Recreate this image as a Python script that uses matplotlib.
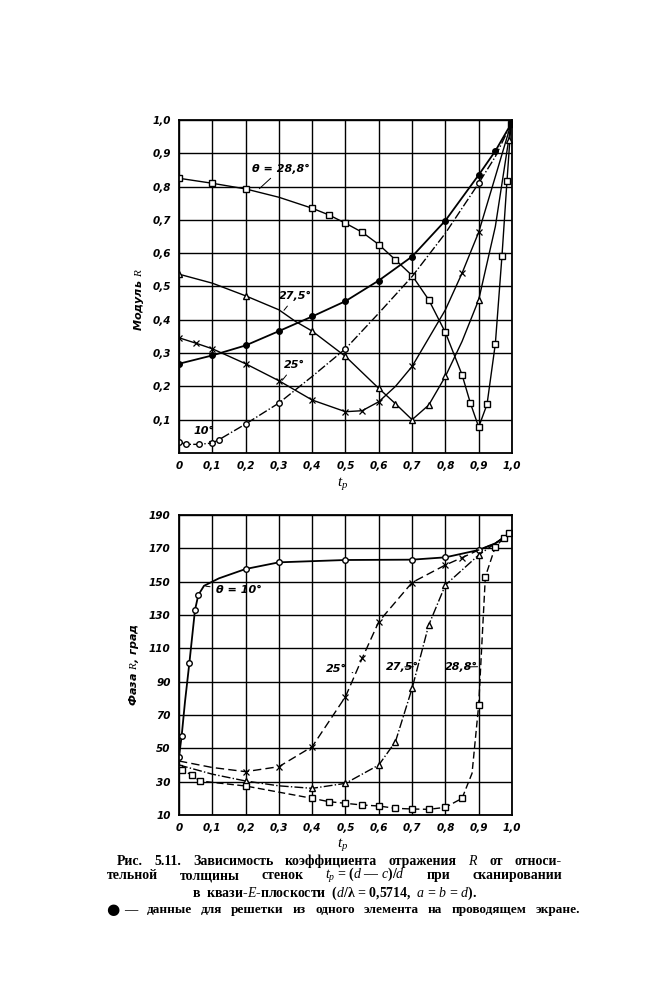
import matplotlib
matplotlib.use('Agg')
import matplotlib.pyplot as plt

plt.rcParams['font.family'] = ['DejaVu Sans']
plt.rcParams['mathtext.fontset'] = 'custom'
plt.rcParams['mathtext.rm'] = 'Liberation Serif'
plt.rcParams['mathtext.it'] = 'Liberation Serif:italic'

# --- верхний график: модуль R ---
x_288 = [0, 0.1, 0.2, 0.3, 0.4, 0.45, 0.5, 0.55, 0.6, 0.65, 0.7, 0.75, 0.8, 0.85, 0.875, 0.9, 0.925, 0.95, 0.97, 0.985, 0.997]
r_288 = [0.825, 0.81, 0.793, 0.768, 0.735, 0.715, 0.69, 0.663, 0.626, 0.58, 0.533, 0.46, 0.362, 0.235, 0.15, 0.078, 0.146, 0.328, 0.593, 0.817, 0.988]
m_288 = [0, 1, 2, 4, 5, 6, 7, 8, 9, 10, 11, 12, 13, 14, 15, 16, 17, 18, 19, 20]

x_275 = [0, 0.1, 0.2, 0.3, 0.35, 0.4, 0.5, 0.6, 0.65, 0.7, 0.75, 0.8, 0.85, 0.9, 0.95, 0.99, 0.997]
r_275 = [0.537, 0.51, 0.472, 0.43, 0.395, 0.366, 0.29, 0.194, 0.148, 0.10, 0.144, 0.23, 0.335, 0.46, 0.68, 0.94, 0.988]
m_275 = [0, 2, 5, 6, 7, 8, 9, 10, 11, 13, 15]

x_25 = [0, 0.05, 0.1, 0.2, 0.3, 0.4, 0.5, 0.55, 0.6, 0.65, 0.7, 0.75, 0.8, 0.85, 0.9, 0.95, 0.997]
r_25 = [0.346, 0.33, 0.313, 0.268, 0.217, 0.159, 0.124, 0.127, 0.154, 0.2, 0.26, 0.345, 0.43, 0.54, 0.663, 0.83, 0.988]
m_25 = [0, 1, 2, 3, 4, 5, 6, 7, 8, 10, 13, 14]

x_10 = [0, 0.02, 0.06, 0.1, 0.12, 0.2, 0.3, 0.4, 0.5, 0.6, 0.7, 0.8, 0.9, 0.95, 0.997]
r_10 = [0.034, 0.026, 0.026, 0.03, 0.04, 0.087, 0.15, 0.23, 0.313, 0.42, 0.53, 0.66, 0.81, 0.89, 0.988]
m_10 = [0, 1, 2, 3, 4, 5, 6, 8, 12, 14]

x_one = [0, 0.1, 0.2, 0.3, 0.4, 0.5, 0.6, 0.7, 0.8, 0.9, 0.95, 0.997]
r_one = [0.268, 0.293, 0.323, 0.366, 0.41, 0.456, 0.518, 0.59, 0.698, 0.835, 0.907, 0.988]

# --- нижний график: фаза R ---
px_10 = [0, 0.008, 0.018, 0.031, 0.048, 0.058, 0.075, 0.12, 0.2, 0.3, 0.5, 0.7, 0.8, 0.9, 0.95, 1.0]
ph_10 = [45, 57.5, 78, 101, 133, 142, 147.5, 152, 157.6, 161.6, 163, 163.2, 164.6, 169, 173, 180]
pm_10 = [0, 1, 3, 4, 5, 8, 9, 10, 11, 12, 13]

px_25 = [0, 0.1, 0.2, 0.3, 0.4, 0.5, 0.55, 0.6, 0.7, 0.8, 0.85, 0.9, 0.95, 1.0]
ph_25 = [42.4, 38.5, 36, 39, 51, 81, 104, 126, 149.5, 160, 164.4, 169, 173, 180]
pm_25 = [2, 3, 4, 5, 6, 7, 8, 9, 10]

px_275 = [0, 0.1, 0.2, 0.3, 0.4, 0.5, 0.6, 0.65, 0.7, 0.75, 0.8, 0.9, 0.95, 1.0]
ph_275 = [40, 34.5, 30.4, 27.5, 26, 29, 40, 54, 86, 124, 148, 166, 173, 180]
pm_275 = [2, 4, 5, 6, 7, 8, 9, 10, 11]

px_288 = [0, 0.01, 0.038, 0.063, 0.2, 0.4, 0.45, 0.5, 0.55, 0.6, 0.65, 0.7, 0.75, 0.8, 0.85, 0.88, 0.9, 0.92, 0.95, 0.975, 0.99, 1.0]
ph_288 = [38.5, 37, 34, 30.4, 27.4, 20, 18, 17, 16, 15.4, 14, 13.6, 13.4, 14.6, 20, 35, 76, 153, 171, 176, 179, 181]
pm_288 = [0, 1, 2, 3, 4, 5, 6, 7, 8, 9, 10, 11, 12, 13, 14, 16, 17, 18, 19, 20]

x_ticks = [0, 0.1, 0.2, 0.3, 0.4, 0.5, 0.6, 0.7, 0.8, 0.9, 1.0]
x_labels = ['0', '0,1', '0,2', '0,3', '0,4', '0,5', '0,6', '0,7', '0,8', '0,9', '1,0']
r_ticks = [0.1, 0.2, 0.3, 0.4, 0.5, 0.6, 0.7, 0.8, 0.9, 1.0]
r_labels = ['0,1', '0,2', '0,3', '0,4', '0,5', '0,6', '0,7', '0,8', '0,9', '1,0']
ph_ticks = [10, 30, 50, 70, 90, 110, 130, 150, 170, 190]
ph_labels = ['10', '30', '50', '70', '90', '110', '130', '150', '170', '190']

# подпись: строки разбиты на слова для выключки по ширине
cap_line1 = ['Рис.', '5.11.', 'Зависимость', 'коэффициента', 'отражения', '$R$', 'от', 'относи-']
cap_line2 = ['тельной', 'толщины', 'стенок', '$t_p$ = ($d$ — $c$)/$d$', 'при', 'сканировании']
cap_line3 = 'в  квази-$E$-плоскости  ($d$/λ = 0,5714,  $a$ = $b$ = $d$).'
cap_line4 = ['—', 'данные', 'для', 'решетки', 'из', 'одного', 'элемента', 'на', 'проводящем', 'экране.']

tick_font = dict(fontsize=7.5, fontstyle='italic', fontweight='bold')
lw = 1.0
ms = 4


def style_axes(ax, yticks, ylabels):
    ax.set_xlim(0, 1.0)
    ax.set_xticks(x_ticks)
    ax.set_xticklabels(x_labels, **tick_font)
    ax.set_yticks(yticks)
    ax.set_yticklabels(ylabels, **tick_font)
    ax.grid(True, color='black', linewidth=1.0)
    ax.tick_params(length=0, pad=6)
    for s in ax.spines.values():
        s.set_linewidth(1.3)
    ax.set_axisbelow(True)


def justify(fig, words, x0, x1, y, **kw):
    # раскладываем слова так, чтобы строка заняла ширину x0..x1 (в пикселях)
    r = fig.canvas.get_renderer()
    texts = [fig.text(0, 1 - y / 1000, w, ha='left', va='baseline', **kw) for w in words]
    widths = [t.get_window_extent(r).width for t in texts]
    gap = (x1 - x0 - sum(widths)) / (len(words) - 1)
    x = x0
    for t, w in zip(texts, widths):
        t.set_x(x / 662)
        x += w + gap


fig = plt.figure(figsize=(6.62, 10), dpi=100)

ax1 = fig.add_axes([0.2704, 0.547, 0.503, 0.333])
ax1.plot(x_288, r_288, '-', color='black', lw=lw, marker='s', ms=ms, mfc='white', markevery=m_288)
ax1.plot(x_275, r_275, '-', color='black', lw=lw, marker='^', ms=ms + 1, mfc='white', markevery=m_275)
ax1.plot(x_25, r_25, '-', color='black', lw=lw, marker='x', ms=ms, mew=0.9, markevery=m_25)
ax1.plot(x_10, r_10, '-.', color='black', lw=lw, marker='o', ms=ms, mfc='white', markevery=m_10)
ax1.plot(x_one, r_one, '-', color='black', lw=1.3, marker='o', ms=ms, mfc='black')
ax1.set_ylim(0, 1.0)
style_axes(ax1, r_ticks, r_labels)
ax1.set_ylabel('Модуль $R$', fontsize=8, fontstyle='italic', fontweight='bold')
ax1.set_xlabel('$t_p$', fontsize=11)
ax1.yaxis.set_label_coords(-0.098, 0.46)
ax1.xaxis.set_label_coords(0.49, -0.065)

ann = dict(fontsize=8, fontstyle='italic', fontweight='bold')
arr = dict(arrowstyle='-', color='black', lw=0.7)
ax1.annotate('θ = 28,8°', xy=(0.235, 0.788), xytext=(0.22, 0.845), arrowprops=arr, **ann)
ax1.annotate('27,5°', xy=(0.31, 0.422), xytext=(0.3, 0.462), arrowprops=arr, **ann)
ax1.annotate('25°', xy=(0.305, 0.212), xytext=(0.315, 0.255), arrowprops=arr, **ann)
ax1.annotate('10°', xy=(0.095, 0.028), xytext=(0.045, 0.057), arrowprops=arr, **ann)

ax2 = fig.add_axes([0.2704, 0.185, 0.503, 0.30])
ax2.plot(px_10, ph_10, '-', color='black', lw=1.3, marker='o', ms=ms, mfc='white', markevery=pm_10)
ax2.plot(px_25, ph_25, '--', color='black', lw=lw, dashes=(6, 3), marker='x', ms=ms, mew=0.9, markevery=pm_25)
ax2.plot(px_275, ph_275, '-.', color='black', lw=lw, marker='^', ms=ms + 1, mfc='white', markevery=pm_275)
ax2.plot(px_288, ph_288, '--', color='black', lw=lw, dashes=(5, 2.5), marker='s', ms=ms + 1, mfc='white', markevery=pm_288)
ax2.set_ylim(10, 190)
style_axes(ax2, ph_ticks, ph_labels)
ax2.set_ylabel('Фаза $R$, град', fontsize=8, fontstyle='italic', fontweight='bold')
ax2.set_xlabel('$t_p$', fontsize=11)
ax2.yaxis.set_label_coords(-0.115, 0.5)
ax2.xaxis.set_label_coords(0.49, -0.07)

ax2.annotate('θ = 10°', xy=(0.072, 147.5), xytext=(0.11, 143), arrowprops=arr, **ann)
ax2.annotate('25°', xy=(0.53, 95), xytext=(0.44, 96), arrowprops=arr, **ann)
ax2.annotate('27,5°', xy=(0.712, 99), xytext=(0.62, 97), arrowprops=arr, **ann)
ax2.annotate('28,8°', xy=(0.905, 99), xytext=(0.80, 97), arrowprops=arr, **ann)

cap = dict(fontsize=10, family=['Liberation Serif', 'DejaVu Sans'], fontweight='bold')
justify(fig, cap_line1, 117, 562, 865, **cap)
justify(fig, cap_line2, 107, 562, 879, **cap)
fig.text(334 / 662, 1 - 897 / 1000, cap_line3, ha='center', va='baseline', **cap)
fig.text(106 / 662, 1 - 913.5 / 1000, '●', ha='left', va='baseline', fontsize=11, family='DejaVu Sans')
justify(fig, cap_line4, 124, 580, 913, **dict(cap, fontsize=9.5))

fig.savefig('out.png', dpi=100, facecolor='white')
